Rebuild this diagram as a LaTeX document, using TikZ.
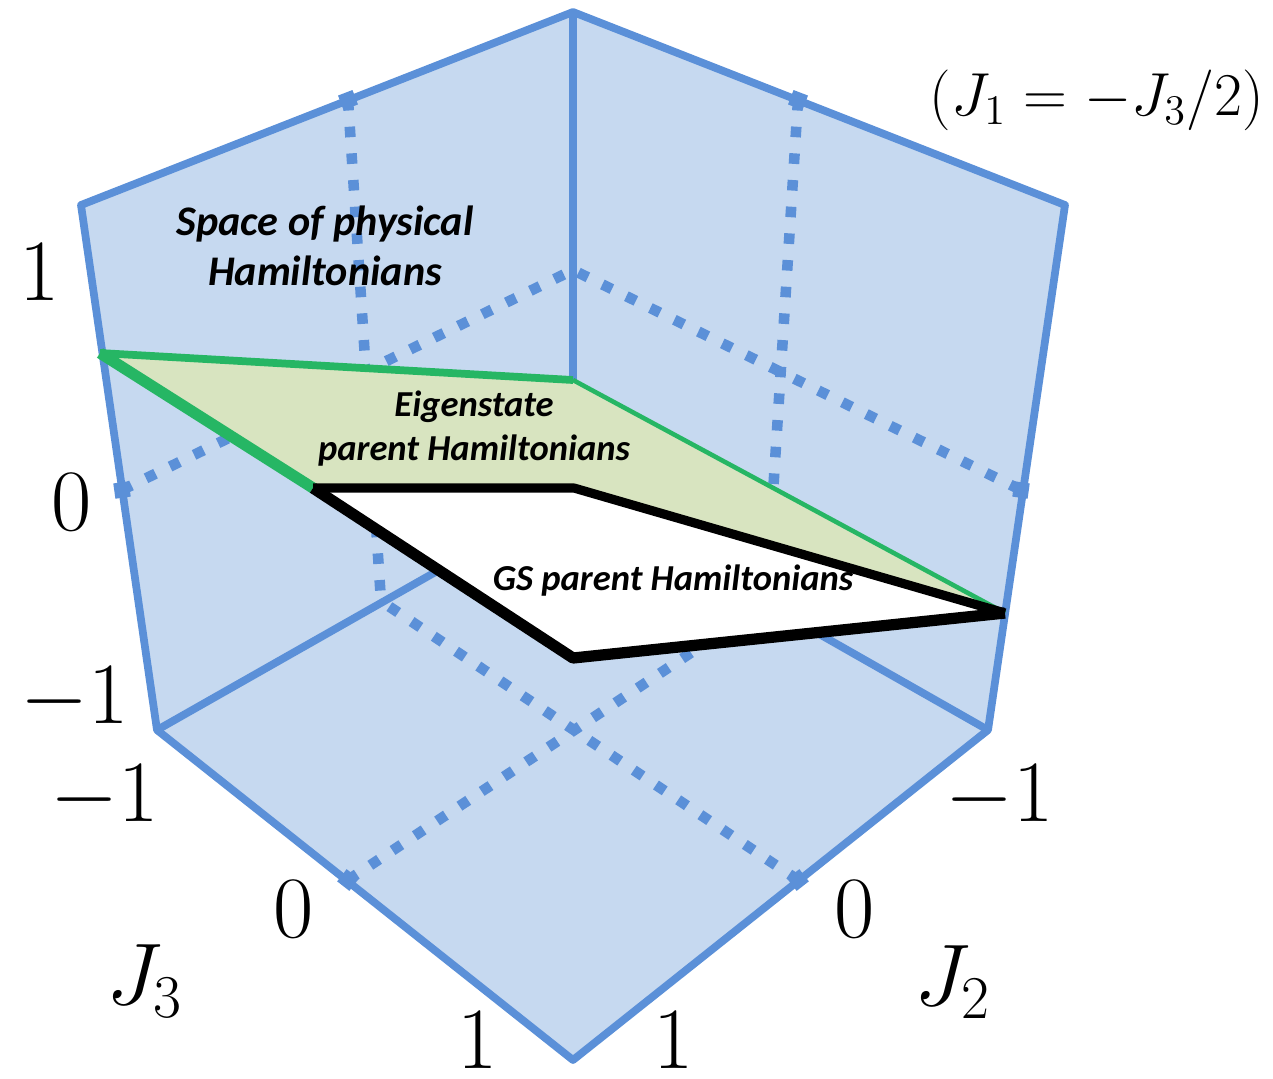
\documentclass[tikz,border=0pt]{standalone}
\usepackage{fontspec}
\newfontfamily\carlito{Carlito}
\usetikzlibrary{positioning}
\definecolor{boxblue}{RGB}{91,144,216}
\definecolor{wallfill}{RGB}{198,217,240}
\definecolor{planegreen}{RGB}{38,182,100}
\definecolor{planefill}{RGB}{216,228,192}

\begin{document}
\begin{tikzpicture}[
    x=0.01cm, y=-0.01cm,
    edge/.style={boxblue, line width=2.2pt, line join=round},
    zerogrid/.style={boxblue, line width=3pt, dash pattern=on 3pt off 4.6pt},
    tickmark/.style={rectangle, fill=boxblue, minimum size=4.4pt, inner sep=0pt},
    ticklabel/.style={font=\fontsize{23}{28}\selectfont, inner sep=0pt},
    region/.style={font=\carlito\bfseries\itshape\fontsize{10.4}{12.5}\selectfont, align=center, inner sep=0pt}
]
    \useasboundingbox (0,0) rectangle (1273,1078);

    % Box corners
    \coordinate (T)  at (573,12);
    \coordinate (UL) at (81,205);
    \coordinate (UR) at (1065,205);
    \coordinate (LL) at (157,730);
    \coordinate (LR) at (988,730);
    \coordinate (B)  at (573,1060);
    \coordinate (C)  at (573,494);

    % Zero points on the edges
    \coordinate (tl) at (348,100);
    \coordinate (tr) at (798,100);
    \coordinate (zl) at (122,490);
    \coordinate (zr) at (1021,490);
    \coordinate (zc) at (573,270);
    \coordinate (bl) at (348,880);
    \coordinate (br) at (798,880);
    \coordinate (fl) at (381,601);
    \coordinate (fr) at (766,603);

    % Plane corners
    \coordinate (G1) at (100,353);
    \coordinate (G2) at (573,380);
    \coordinate (G3) at (1005,613);
    \coordinate (G4) at (313,488);
    \coordinate (W2) at (574,488);
    \coordinate (W4) at (573,658);

    % Walls
    \fill[wallfill] (T) -- (UL) -- (LL) -- (B) -- (LR) -- (UR) -- cycle;

    % Grid at zero
    \draw[zerogrid] (tl) -- (fl);
    \draw[zerogrid] (zl) -- (zc) -- (zr);
    \draw[zerogrid] (tr) -- (fr);
    \draw[zerogrid] (bl) -- (fr);
    \draw[zerogrid] (br) -- (fl);

    % Box edges
    \draw[edge] (T) -- (UL) -- (LL) -- (B) -- (LR) -- (UR) -- cycle;
    \draw[edge] (T) -- (C) (LL) -- (C) -- (LR);

    % Planes
    \fill[planefill] (G1) -- (G2) -- (G3) -- (W2) -- (G4) -- cycle;
    \fill[white] (G4) -- (W2) -- (G3) -- (W4) -- cycle;
    \draw[planegreen, line width=2.2pt] (G1) -- (G2);
    \draw[planegreen, line width=1.3pt] (G2) -- (G3);
    \draw[planegreen, line width=3.2pt] (G1) -- (G4);
    \draw[black, line width=2.6pt, line join=round] (G4) -- (W2) -- (G3);
    \draw[black, line width=3.2pt, line join=round] (G3) -- (W4) -- (G4);

    % Tick marks
    \foreach \p/\a in {tl/21, tr/-21, zl/8, zr/-8, bl/-38, br/38}
        \node[tickmark, rotate=\a] (m\p) at (\p) {};

    % Axis labels
    \node[ticklabel] (v1)  at (40,272)  {$1$};
    \node[ticklabel] (v0)  at (72,502)  {$0$};
    \node[ticklabel] (vm1) at (75,699)  {$-1$};
    \node[ticklabel] (a3m) at (105,797) {$-1$};
    \node[ticklabel] (a30) at (294,909) {$0$};
    \node[ticklabel] (a31) at (478,1040) {$1$};
    \node[ticklabel] (J3)  at (145,981) {$J_3$};
    \node[ticklabel] (a2m) at (1000,797) {$-1$};
    \node[ticklabel] (a20) at (855,909) {$0$};
    \node[ticklabel] (a21) at (674,1040) {$1$};
    \node[ticklabel] (J2)  at (953,982) {$J_2$};
    \node[font=\fontsize{16.5}{20}\selectfont, inner sep=0pt] (cut) at (1097,100) {$(J_1=-J_3/2)$};

    % Region labels
    \node[region, font=\carlito\bfseries\itshape\fontsize{12}{14.2}\selectfont] (phys) at (325,246) {Space of physical\\Hamiltonians};
    \node[region] (eig) at (474,429) {Eigenstate\\parent Hamiltonians};
    \node[region] (gs) at (673,581) {GS parent Hamiltonians};
\end{tikzpicture}
\end{document}
